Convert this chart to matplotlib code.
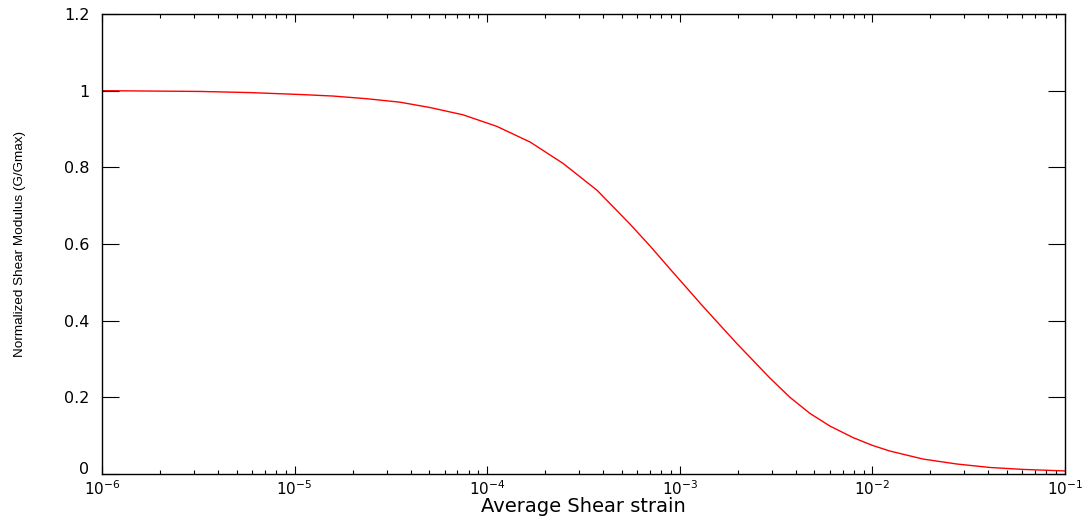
import numpy as np
import matplotlib
matplotlib.use('Agg')
import matplotlib.pyplot as plt
from matplotlib.ticker import FixedLocator, FuncFormatter, LogLocator, NullFormatter
from matplotlib.transforms import ScaledTranslation

plt.rcParams['font.family'] = ['DejaVu Sans']
plt.rcParams['mathtext.fontset'] = 'dejavusans'
plt.rcParams['mathtext.default'] = 'regular'

# Deformación de corte promedio y módulo normalizado
strain = [1e-6, 3.23e-6, 5.87e-6, 1.07e-5, 1.58e-5, 2.37e-5, 3.52e-5, 5.05e-5, 7.49e-5,
          1.12e-4, 1.67e-4, 2.48e-4, 3.72e-4, 5.51e-4, 7.00e-4, 8.89e-4, 1.32e-3,
          1.98e-3, 2.94e-3, 3.73e-3, 4.74e-3, 6.02e-3, 7.93e-3, 9.95e-3, 1.23e-2,
          1.83e-2, 2.75e-2, 4.08e-2, 6.05e-2, 1e-1]
g_ratio = [1.000, 0.998, 0.995, 0.990, 0.986, 0.979, 0.970, 0.956, 0.937,
           0.907, 0.866, 0.810, 0.740, 0.652, 0.595, 0.535, 0.437,
           0.340, 0.250, 0.200, 0.158, 0.125, 0.095, 0.075, 0.060,
           0.039, 0.026, 0.017, 0.012, 0.008]

y_ticks = [0, 0.2, 0.4, 0.6, 0.8, 1, 1.2]

fig = plt.figure(figsize=(10.9, 5.19), dpi=100)
ax = fig.add_axes([0.0936, 0.0867, 0.8835, 0.8863])

ax.plot(strain, g_ratio, color='red', linewidth=1.0)

ax.set_xscale('log')
ax.set_xlim(1e-6, 1e-1)
ax.set_ylim(0, 1.2)
ax.yaxis.set_major_locator(FixedLocator(y_ticks))
ax.yaxis.set_major_formatter(FuncFormatter(lambda v, p: '%g' % v))
ax.xaxis.set_major_locator(LogLocator(base=10, numticks=10))
ax.xaxis.set_minor_locator(LogLocator(base=10, subs=np.arange(2, 10), numticks=20))
ax.xaxis.set_minor_formatter(NullFormatter())

ax.tick_params(which='both', direction='in', top=True, right=True, labelsize=11.5, colors='black')
ax.tick_params(axis='y', which='major', length=12, width=0.8, pad=9)
ax.tick_params(axis='x', which='major', length=6, width=0.8, pad=4, labelsize=11)
ax.tick_params(axis='x', which='minor', length=3, width=0.8)

# el "0" del eje y sube un poco para no pisar el 10^-6
lbl0 = ax.yaxis.get_major_ticks()[0].label1
lbl0.set_transform(lbl0.get_transform() + ScaledTranslation(0, 4 / 72, fig.dpi_scale_trans))

for s in ax.spines.values():
    s.set_linewidth(1.0)

ax.set_xlabel('Average Shear strain', fontsize=14, labelpad=-1)
ax.set_ylabel('Normalized Shear Modulus (G/Gmax)', fontsize=9.7,
              family=['Liberation Sans', 'DejaVu Sans'])
ax.yaxis.set_label_coords(-0.079, 0.5)

plt.savefig('out.png', dpi=100)
